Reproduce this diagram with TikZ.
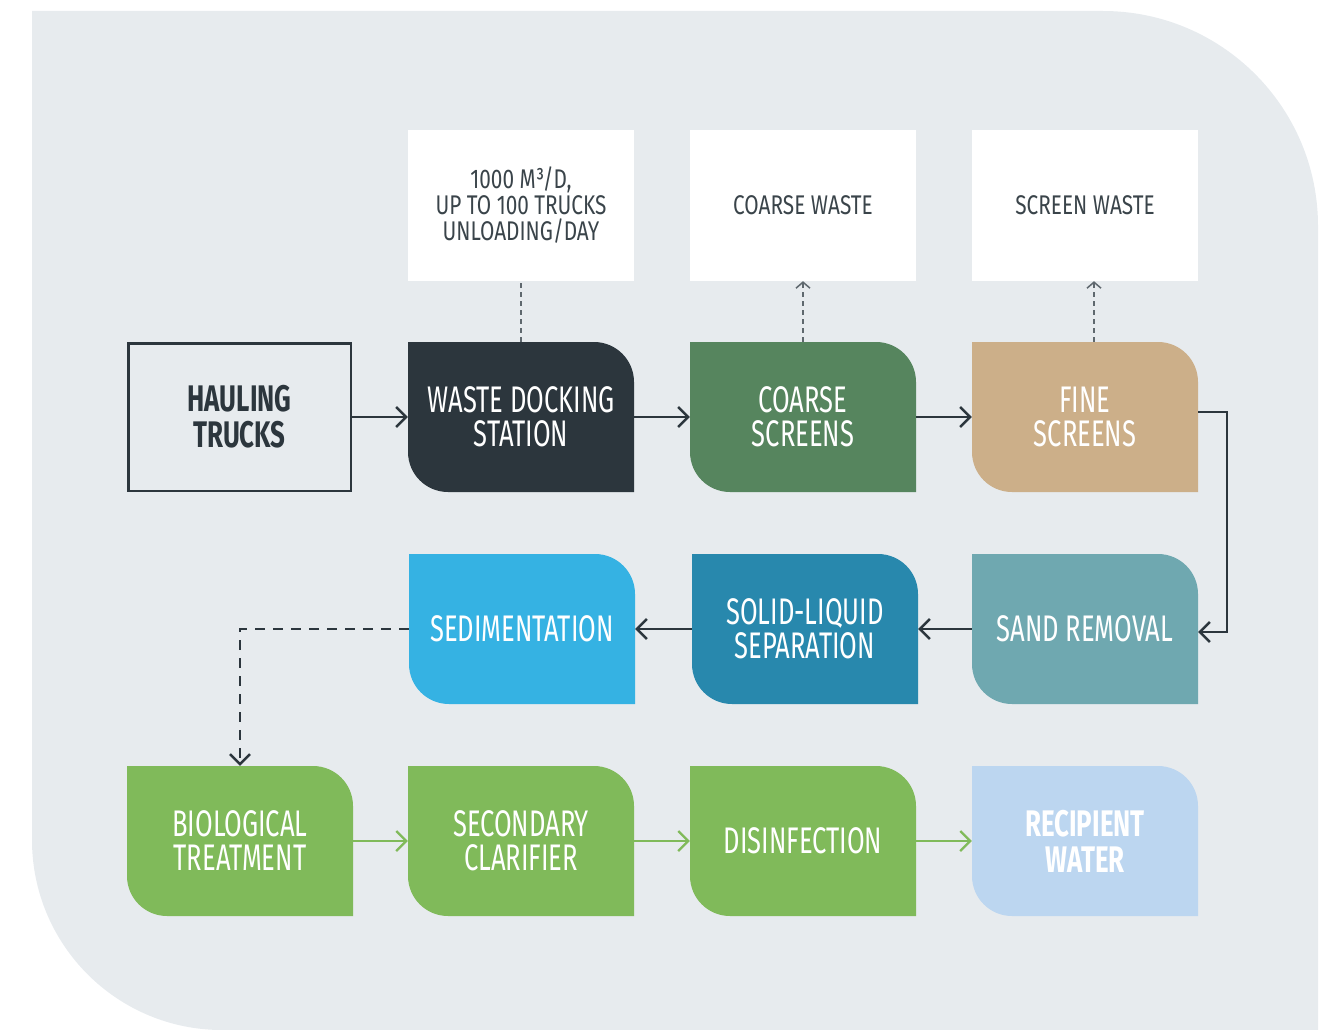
\documentclass[tikz,border=0pt]{standalone}
\usepackage{fontspec}
\setmainfont{Fira Sans}[FakeStretch=0.69]
\newfontfamily\condbold{Fira Sans}[FakeStretch=0.7]
\newfontfamily\notefont{Fira Sans}[FakeStretch=0.77]
\usetikzlibrary{arrows.meta}
\definecolor{darkc}{HTML}{2C363D}
\definecolor{coarsec}{HTML}{56855E}
\definecolor{tanc}{HTML}{CCAF89}
\definecolor{sandc}{HTML}{6FA8B0}
\definecolor{solidc}{HTML}{2888AD}
\definecolor{sedc}{HTML}{35B2E3}
\definecolor{greenc}{HTML}{80BA5A}
\definecolor{recc}{HTML}{BCD6F0}
\definecolor{bgc}{HTML}{E7EBEE}
\definecolor{textgray}{HTML}{3A444A}
\definecolor{dotgray}{HTML}{5F686E}
\newcommand\procbox[6][]{%
  \fill[#5] (#3,-#4) -- ({#3+186},-#4) arc[start angle=90,end angle=0,radius=40pt] -- ({#3+226},{-#4-150}) -- ({#3+40},{-#4-150}) arc[start angle=270,end angle=180,radius=40pt] -- cycle;
  \node[proc,#1] (#2) at ({#3+113},{-#4-75}) {#6};}
\begin{document}
\begin{tikzpicture}[x=1pt,y=1pt,
  proc/.style={inner sep=0pt, minimum width=226pt, minimum height=150pt, align=center, text=white, font=\fontsize{37}{34}\selectfont},
  boldtext/.style={font=\condbold\bfseries\fontsize{37}{36}\selectfont},
  note/.style={fill=white, inner sep=0pt, minimum width=226pt, minimum height=151pt, align=center, text=textgray, font=\notefont\fontsize{27}{26}\selectfont},
  flow/.style={draw=darkc, line width=2.4pt, -{Straight Barb[length=10pt,width=20pt]}},
  gflow/.style={draw=greenc, line width=2.2pt, -{Straight Barb[length=10pt,width=20pt]}},
  dotline/.style={draw=dotgray, line width=1.5pt, dash pattern=on 5pt off 4pt},
  dotarrow/.style={dotline, -{Straight Barb[length=6pt,width=14pt,line width=1.5pt]}}]
\useasboundingbox (0,0) rectangle (1333,-1030);
\fill[bgc] (32,-11) -- (1103,-11) arc[start angle=90,end angle=0,radius=215pt] -- (1318,-1030) -- (222,-1030) arc[start angle=270,end angle=180,radius=190pt] -- cycle;

% notes
\node[note] (n1) at (521,-205.5) {1000 M³/D,\\UP TO 100 TRUCKS\\UNLOADING/DAY};
\node[note] (n2) at (803,-205.5) {COARSE WASTE};
\node[note] (n3) at (1085,-205.5) {SCREEN WASTE};

% row 1
\node[draw=darkc, line width=2.5pt, inner sep=0pt, minimum width=222.5pt, minimum height=147.5pt, align=center, text=darkc, boldtext] (haul) at (239.5,-417) {HAULING\\TRUCKS};
\procbox{wds}{408}{342}{darkc}{WASTE DOCKING\\STATION}
\procbox{cs}{690}{342}{coarsec}{COARSE\\SCREENS}
\procbox{fs}{972}{342}{tanc}{FINE\\SCREENS}

% row 2
\procbox{sed}{409}{554}{sedc}{SEDIMENTATION}
\procbox{sls}{692}{554}{solidc}{SOLID-LIQUID\\SEPARATION}
\procbox{sand}{972}{554}{sandc}{SAND REMOVAL}

% row 3
\procbox{bio}{127}{766}{greenc}{BIOLOGICAL\\TREATMENT}
\procbox{sec}{408}{766}{greenc}{SECONDARY\\CLARIFIER}
\procbox{dis}{690}{766}{greenc}{DISINFECTION}
\procbox[boldtext]{rec}{972}{766}{recc}{RECIPIENT\\WATER}

% connectors
\draw[dotline] (wds.north) -- (n1.south);
\draw[dotarrow] (cs.north) -- (n2.south);
\draw[dotarrow] ([xshift=9pt]fs.north) -- ([xshift=9pt]n3.south);
\draw[flow] (haul.east) -- (wds.west);
\draw[flow] (wds.east) -- (cs.west);
\draw[flow] (cs.east) -- (fs.west);
\draw[flow] ([yshift=5pt]fs.east) -- ++(29,0) |- ([yshift=-3pt]sand.east);
\draw[flow] (sand.west) -- (sls.east);
\draw[flow] (sls.west) -- (sed.west -| sed.east);
\draw[flow, dash pattern=on 10pt off 8pt] (sed.west) -| (bio.north);
\draw[gflow] (bio.east) -- (sec.west);
\draw[gflow] (sec.east) -- (dis.west);
\draw[gflow] (dis.east) -- (rec.west);
\end{tikzpicture}
\end{document}
